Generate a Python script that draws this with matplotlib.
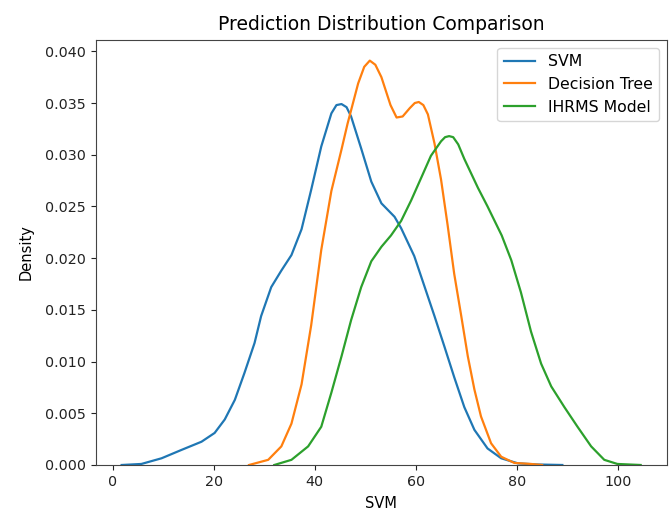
import matplotlib
matplotlib.use("Agg")
import matplotlib.pyplot as plt

# --- density curves (x = prediction value, y = density) ---
svm_x = [1.8, 5.7, 9.7, 13.6, 17.6, 20.2, 22.2, 24.2, 26.1, 28.1, 29.4, 31.4,
         33.4, 35.4, 37.4, 39.3, 41.3, 43.3, 44.3, 45.3, 46.3, 47.2, 49.2, 51.2,
         53.2, 55.8, 57.1, 59.7, 61.7, 63.7, 65.7, 67.6, 69.6, 71.6, 74.2, 76.9,
         80.2, 84.0, 89.0]
svm_y = [0.0, 0.0001, 0.00065, 0.00145, 0.00225, 0.0031, 0.0044, 0.0063, 0.0089,
         0.0118, 0.0144, 0.0172, 0.0188, 0.0203, 0.0228, 0.0266, 0.0308, 0.0340,
         0.0348, 0.0349, 0.0346, 0.0337, 0.0306, 0.0274, 0.0253, 0.0240, 0.0229,
         0.0202, 0.0173, 0.0144, 0.0114, 0.0085, 0.0056, 0.0034, 0.0016, 0.00065,
         0.00016, 0.00005, 0.0]

tree_x = [27.0, 30.8, 33.4, 35.4, 37.4, 39.3, 41.3, 43.3, 45.3, 46.5, 48.6, 49.8,
          50.9, 52.0, 53.2, 55.0, 56.2, 57.4, 58.8, 59.8, 60.6, 61.5, 62.4, 63.7,
          65.0, 66.3, 67.6, 69.0, 70.3, 71.6, 72.9, 74.9, 76.9, 79.5, 82.8, 85.0]
tree_y = [0.0, 0.0005, 0.0018, 0.0040, 0.0078, 0.0135, 0.0208, 0.0265, 0.0305,
          0.0330, 0.0369, 0.0385, 0.0391, 0.0387, 0.0375, 0.0348, 0.0336, 0.0337,
          0.0345, 0.0350, 0.0351, 0.0348, 0.0339, 0.0311, 0.0276, 0.0232, 0.0185,
          0.0144, 0.0105, 0.0073, 0.0047, 0.0021, 0.0008, 0.0002, 0.0001, 0.0]

ihrms_x = [32.0, 35.4, 38.7, 41.3, 43.3, 45.3, 47.2, 49.2, 51.2, 53.2, 55.1, 57.1,
           59.1, 61.1, 63.0, 65.0, 65.8, 66.6, 67.4, 68.4, 69.6, 72.3, 74.2, 77.0,
           78.9, 80.8, 82.8, 84.8, 86.8, 89.4, 92.0, 94.7, 97.3, 99.9, 104.5]
ihrms_y = [0.0, 0.0005, 0.0018, 0.0037, 0.0070, 0.0105, 0.0140, 0.0172, 0.0197,
           0.0211, 0.0222, 0.0236, 0.0256, 0.0278, 0.0299, 0.0313, 0.0317, 0.0318,
           0.0317, 0.0310, 0.0296, 0.0268, 0.0250, 0.0222, 0.0198, 0.0167, 0.0129,
           0.0098, 0.0076, 0.0056, 0.0037, 0.0018, 0.0005, 0.0001, 0.0]

labels = ["SVM", "Decision Tree", "IHRMS Model"]
colors = ["#1f77b4", "#ff7f0e", "#2ca02c"]

fig = plt.figure(figsize=(6.72, 5.12), dpi=100)
ax = fig.add_axes([0.1424, 0.0918, 0.992 - 0.1424, 0.922 - 0.0918])

for xs, ys, lab, col in zip([svm_x, tree_x, ihrms_x], [svm_y, tree_y, ihrms_y], labels, colors):
    ax.plot(xs, ys, color=col, linewidth=1.6, label=lab)

ax.set_ylim(0, 0.0411)
ax.set_xticks([0, 20, 40, 60, 80, 100])
ax.set_yticks([0.0, 0.005, 0.010, 0.015, 0.020, 0.025, 0.030, 0.035, 0.040])
ax.yaxis.set_major_formatter(matplotlib.ticker.FormatStrFormatter("%.3f"))
ax.tick_params(labelsize=10.3, colors="#222222")

ax.set_xlabel("SVM", fontsize=10.5, labelpad=5)
ax.set_ylabel("Density", fontsize=10.5, labelpad=8)
ax.set_title("Prediction Distribution Comparison", fontsize=13.5, pad=7)
ax.legend(loc="upper right", fontsize=11.3)

for s in ax.spines.values():
    s.set_color("#444444")

fig.savefig("out.png", dpi=100)
